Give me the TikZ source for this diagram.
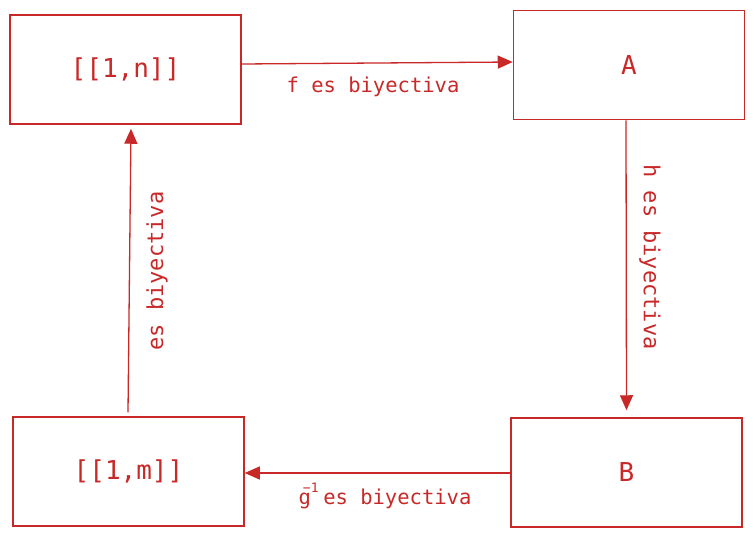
\documentclass[tikz,border=0pt]{standalone}
\usepackage{fontspec}
\newfontfamily\codefont{DejaVu Sans Mono}
\usetikzlibrary{arrows.meta}
\definecolor{dred}{RGB}{200,40,40}
\tikzset{
  box/.style={draw=dred, line width=1.5pt, text=dred, minimum width=231pt, minimum height=109pt, inner sep=0pt, font=\codefont\fontsize{26}{30}\selectfont},
  arr/.style={draw=dred, line width=1.3pt, -{Triangle[length=15pt,width=13pt]}},
  lbl/.style={text=dred, inner sep=0pt, font=\codefont\fontsize{20.5}{24}\selectfont},
  vlbl/.style={text=dred, inner sep=0pt, font=\codefont\fontsize{22}{26}\selectfont},
}
\begin{document}
\begin{tikzpicture}[x=1pt,y=-1pt]
\useasboundingbox (0,0) rectangle (755,538);
\node[box] (n) at (125.5,69.5) {[[1,n]]};
\node[box] (A) at (629,65) {A};
\node[box] (m) at (128.5,471.5) {[[1,m]]};
\node[box] (B) at (626.5,472.5) {B};
\draw[arr] ([yshift=5.5pt]n.east) -- ([yshift=3pt]A.west);
\draw[arr] ([xshift=-3pt]A.south) -- ([yshift=7pt]B.north);
\draw[arr] ([yshift=-0.5pt]B.west) -- ([yshift=-1.5pt]m.east);
\draw[arr] ([xshift=-0.5pt,yshift=4pt]m.north) -- ([xshift=5.5pt,yshift=-4pt]n.south);
\node[lbl] (lf) at (373,86.5) {f es biyectiva};
\node[lbl] (lg) at (385,499) {g\smash{\makebox[0pt][l]{\hspace{-8pt}\raisebox{12.5pt}{\fontsize{13}{13}\selectfont −1}}} es biyectiva};
\node[vlbl, rotate=90] (li) at (157,271) {es biyectiva};
\node[vlbl, rotate=-90] (lh) at (650,257) {h es biyectiva};
\end{tikzpicture}
\end{document}
